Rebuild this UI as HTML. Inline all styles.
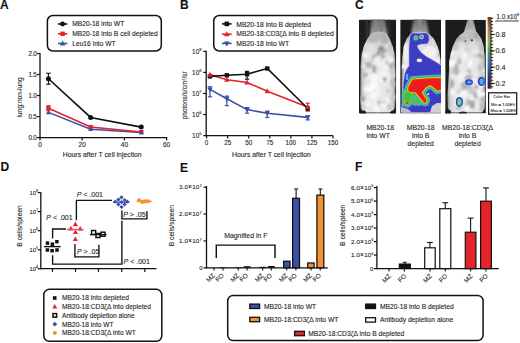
<!DOCTYPE html><html><head><meta charset="utf-8"><style>html,body{margin:0;padding:0;background:#fff;overflow:hidden;}svg{display:block;}text{font-family:"Liberation Sans",sans-serif;stroke:#222;stroke-width:0.1px;}</style></head><body>
<svg width="520" height="343" viewBox="0 0 520 343">
<rect width="520" height="343" fill="#fff"/>
<text x="0" y="8.7" font-size="12" text-anchor="start" font-weight="bold" fill="#111">A</text>
<text x="180" y="8.7" font-size="12" text-anchor="start" font-weight="bold" fill="#111">B</text>
<text x="354.9" y="8.8" font-size="12" text-anchor="start" font-weight="bold" fill="#111">C</text>
<text x="0.5" y="171.2" font-size="12" text-anchor="start" font-weight="bold" fill="#111">D</text>
<text x="180" y="171.5" font-size="12" text-anchor="start" font-weight="bold" fill="#111">E</text>
<text x="355.0" y="170.8" font-size="12" text-anchor="start" font-weight="bold" fill="#111">F</text>
<rect x="47.4" y="15.5" width="113.9" height="35.5" fill="none" stroke="#111" stroke-width="1.5" rx="5.5"/>
<line x1="58.0" y1="24.0" x2="67.3" y2="24.0" stroke="#111" stroke-width="1.6"/>
<circle cx="62.6" cy="24.0" r="2.4" fill="#111" stroke="none" stroke-width="0"/>
<text x="72.2" y="26.4" font-size="6.7" text-anchor="start" font-weight="normal" fill="#222">MB20-18 into WT</text>
<line x1="58.0" y1="33.8" x2="67.3" y2="33.8" stroke="#e3242b" stroke-width="1.6"/>
<rect x="60.40" y="31.60" width="4.4" height="4.4" fill="#e3242b"/>
<text x="72.2" y="36.199999999999996" font-size="6.7" text-anchor="start" font-weight="normal" fill="#222">MB20-18 into B cell depleted</text>
<line x1="58.0" y1="43.5" x2="67.3" y2="43.5" stroke="#3b4fa8" stroke-width="1.6"/>
<polygon points="62.60,40.58 59.90,45.44 65.30,45.44" fill="#3b4fa8"/>
<text x="72.2" y="45.9" font-size="6.7" text-anchor="start" font-weight="normal" fill="#222">Leu16 into WT</text>
<line x1="40.0" y1="53.0" x2="40.0" y2="138.2" stroke="#111" stroke-width="1.3"/>
<line x1="39.4" y1="137.6" x2="167.2" y2="137.6" stroke="#111" stroke-width="1.3"/>
<line x1="37.0" y1="137.6" x2="40.0" y2="137.6" stroke="#111" stroke-width="1.2"/>
<text x="36.7" y="139.79999999999998" font-size="6.3" text-anchor="end" font-weight="normal" fill="#222" letter-spacing="-0.15">0.0</text>
<line x1="37.0" y1="116.57499999999999" x2="40.0" y2="116.57499999999999" stroke="#111" stroke-width="1.2"/>
<text x="36.7" y="118.77499999999999" font-size="6.3" text-anchor="end" font-weight="normal" fill="#222" letter-spacing="-0.15">0.5</text>
<line x1="37.0" y1="95.55" x2="40.0" y2="95.55" stroke="#111" stroke-width="1.2"/>
<text x="36.7" y="97.75" font-size="6.3" text-anchor="end" font-weight="normal" fill="#222" letter-spacing="-0.15">1.0</text>
<line x1="37.0" y1="74.525" x2="40.0" y2="74.525" stroke="#111" stroke-width="1.2"/>
<text x="36.7" y="76.72500000000001" font-size="6.3" text-anchor="end" font-weight="normal" fill="#222" letter-spacing="-0.15">1.5</text>
<line x1="37.0" y1="53.5" x2="40.0" y2="53.5" stroke="#111" stroke-width="1.2"/>
<text x="36.7" y="55.7" font-size="6.3" text-anchor="end" font-weight="normal" fill="#222" letter-spacing="-0.15">2.0</text>
<line x1="40.0" y1="137.6" x2="40.0" y2="140.6" stroke="#111" stroke-width="1.2"/>
<text x="40.0" y="147.0" font-size="6.5" text-anchor="middle" font-weight="normal" fill="#222">0</text>
<line x1="82.19999999999999" y1="137.6" x2="82.19999999999999" y2="140.6" stroke="#111" stroke-width="1.2"/>
<text x="82.19999999999999" y="147.0" font-size="6.5" text-anchor="middle" font-weight="normal" fill="#222">20</text>
<line x1="124.39999999999999" y1="137.6" x2="124.39999999999999" y2="140.6" stroke="#111" stroke-width="1.2"/>
<text x="124.39999999999999" y="147.0" font-size="6.5" text-anchor="middle" font-weight="normal" fill="#222">40</text>
<line x1="166.6" y1="137.6" x2="166.6" y2="140.6" stroke="#111" stroke-width="1.2"/>
<text x="166.6" y="147.0" font-size="6.5" text-anchor="middle" font-weight="normal" fill="#222">60</text>
<text x="102.25" y="157.3" font-size="6.85" text-anchor="middle" font-weight="normal" fill="#222">Hours after T cell injection</text>
<text x="21.8" y="97.4" font-size="6.6" text-anchor="middle" font-weight="normal" fill="#222" transform="rotate(-90 21.8 97.4)">lung:non-lung</text>
<polyline points="48.44,112.37 90.64,129.19 141.28,132.55" fill="none" stroke="#3b4fa8" stroke-width="1.6" stroke-linejoin="miter"/>
<polyline points="48.44,108.16 90.64,127.09 141.28,132.13" fill="none" stroke="#e3242b" stroke-width="1.6" stroke-linejoin="miter"/>
<polyline points="48.44,78.73 90.64,117.42 141.28,127.09" fill="none" stroke="#111" stroke-width="1.6" stroke-linejoin="miter"/>
<line x1="48.44" y1="73.2635" x2="48.44" y2="84.1965" stroke="#111" stroke-width="1.1"/>
<line x1="46.19" y1="73.2635" x2="50.69" y2="73.2635" stroke="#111" stroke-width="1.1"/>
<line x1="46.19" y1="84.1965" x2="50.69" y2="84.1965" stroke="#111" stroke-width="1.1"/>
<line x1="48.44" y1="105.642" x2="48.44" y2="110.68799999999999" stroke="#e3242b" stroke-width="1.1"/>
<line x1="46.44" y1="105.642" x2="50.44" y2="105.642" stroke="#e3242b" stroke-width="1.1"/>
<line x1="46.44" y1="110.68799999999999" x2="50.44" y2="110.68799999999999" stroke="#e3242b" stroke-width="1.1"/>
<rect x="46.24" y="105.96" width="4.4" height="4.4" fill="#e3242b"/>
<rect x="88.44" y="124.89" width="4.4" height="4.4" fill="#e3242b"/>
<rect x="139.08" y="129.93" width="4.4" height="4.4" fill="#e3242b"/>
<polygon points="48.44,109.67 45.94,114.17 50.94,114.17" fill="#3b4fa8"/>
<polygon points="90.64,126.49 88.14,130.99 93.14,130.99" fill="#3b4fa8"/>
<polygon points="141.28,129.85 138.78,134.35 143.78,134.35" fill="#3b4fa8"/>
<circle cx="48.44" cy="78.73" r="2.5" fill="#111" stroke="none" stroke-width="0"/>
<circle cx="90.64" cy="117.416" r="2.5" fill="#111" stroke="none" stroke-width="0"/>
<circle cx="141.28" cy="127.08749999999999" r="2.5" fill="#111" stroke="none" stroke-width="0"/>
<rect x="213.75" y="15.5" width="123.4" height="35.5" fill="none" stroke="#111" stroke-width="1.5" rx="5.5"/>
<line x1="222.0" y1="23.9" x2="231.6" y2="23.9" stroke="#111" stroke-width="1.6"/>
<rect x="224.50" y="21.60" width="4.6" height="4.6" fill="#111"/>
<text x="236.3" y="26.7" font-size="6.8" text-anchor="start" font-weight="normal" fill="#222">MB20-18 into B depleted</text>
<line x1="222.0" y1="34.2" x2="231.6" y2="34.2" stroke="#e3242b" stroke-width="1.6"/>
<polygon points="226.80,31.18 224.00,36.22 229.60,36.22" fill="#e3242b"/>
<text x="236.3" y="36.400000000000006" font-size="6.8" text-anchor="start" font-weight="normal" fill="#222">MB20-18:CD3ζΔ into B depleted</text>
<line x1="222.0" y1="43.4" x2="231.6" y2="43.4" stroke="#3b4fa8" stroke-width="1.6"/>
<polygon points="226.80,46.42 224.00,41.38 229.60,41.38" fill="#3b4fa8"/>
<text x="236.3" y="45.6" font-size="6.8" text-anchor="start" font-weight="normal" fill="#222">MB20-18 into WT</text>
<line x1="206.2" y1="50.8" x2="206.2" y2="136.2" stroke="#111" stroke-width="1.3"/>
<line x1="205.6" y1="135.6" x2="332.8" y2="135.6" stroke="#111" stroke-width="1.3"/>
<line x1="203.2" y1="135.6" x2="206.2" y2="135.6" stroke="#111" stroke-width="1.2"/>
<text x="201.4" y="137.90" font-size="6.4" text-anchor="end" fill="#222">10<tspan font-size="3.9" dy="-2.8">5</tspan></text>
<line x1="203.2" y1="114.53" x2="206.2" y2="114.53" stroke="#111" stroke-width="1.2"/>
<text x="201.4" y="116.83" font-size="6.4" text-anchor="end" fill="#222">10<tspan font-size="3.9" dy="-2.8">6</tspan></text>
<line x1="203.2" y1="93.46" x2="206.2" y2="93.46" stroke="#111" stroke-width="1.2"/>
<text x="201.4" y="95.76" font-size="6.4" text-anchor="end" fill="#222">10<tspan font-size="3.9" dy="-2.8">7</tspan></text>
<line x1="203.2" y1="72.38999999999999" x2="206.2" y2="72.38999999999999" stroke="#111" stroke-width="1.2"/>
<text x="201.4" y="74.69" font-size="6.4" text-anchor="end" fill="#222">10<tspan font-size="3.9" dy="-2.8">8</tspan></text>
<line x1="203.2" y1="51.31999999999999" x2="206.2" y2="51.31999999999999" stroke="#111" stroke-width="1.2"/>
<text x="201.4" y="53.62" font-size="6.4" text-anchor="end" fill="#222">10<tspan font-size="3.9" dy="-2.8">9</tspan></text>
<line x1="206.6" y1="135.6" x2="206.6" y2="138.6" stroke="#111" stroke-width="1.2"/>
<text x="206.6" y="145.0" font-size="6.3" text-anchor="middle" font-weight="normal" fill="#222">0</text>
<line x1="227.6625" y1="135.6" x2="227.6625" y2="138.6" stroke="#111" stroke-width="1.2"/>
<text x="227.6625" y="145.0" font-size="6.3" text-anchor="middle" font-weight="normal" fill="#222">25</text>
<line x1="248.725" y1="135.6" x2="248.725" y2="138.6" stroke="#111" stroke-width="1.2"/>
<text x="248.725" y="145.0" font-size="6.3" text-anchor="middle" font-weight="normal" fill="#222">50</text>
<line x1="269.7875" y1="135.6" x2="269.7875" y2="138.6" stroke="#111" stroke-width="1.2"/>
<text x="269.7875" y="145.0" font-size="6.3" text-anchor="middle" font-weight="normal" fill="#222">75</text>
<line x1="290.85" y1="135.6" x2="290.85" y2="138.6" stroke="#111" stroke-width="1.2"/>
<text x="290.85" y="145.0" font-size="6.3" text-anchor="middle" font-weight="normal" fill="#222">100</text>
<line x1="311.9125" y1="135.6" x2="311.9125" y2="138.6" stroke="#111" stroke-width="1.2"/>
<text x="311.9125" y="145.0" font-size="6.3" text-anchor="middle" font-weight="normal" fill="#222">125</text>
<line x1="332.975" y1="135.6" x2="332.975" y2="138.6" stroke="#111" stroke-width="1.2"/>
<text x="332.975" y="145.0" font-size="6.3" text-anchor="middle" font-weight="normal" fill="#222">150</text>
<text x="271.5" y="157.2" font-size="6.85" text-anchor="middle" font-weight="normal" fill="#222">Hours after T cell injection</text>
<text x="0" y="0" font-size="6.5" text-anchor="middle" fill="#222" transform="translate(187.0 95.3) rotate(-90)">photons/s/cm<tspan font-size="3.8" dy="-2.4">2</tspan><tspan dy="2.4">/sr</tspan></text>
<polyline points="209.97,89.40 226.82,98.80 247.04,109.60 267.26,113.20 307.70,117.40" fill="none" stroke="#3b4fa8" stroke-width="1.6" stroke-linejoin="miter"/>
<polyline points="209.97,74.70 226.82,79.70 247.04,82.50 267.26,91.20 307.70,107.00" fill="none" stroke="#e3242b" stroke-width="1.6" stroke-linejoin="miter"/>
<polyline points="209.97,76.40 226.82,75.30 247.04,74.20 267.26,68.50 307.70,108.50" fill="none" stroke="#111" stroke-width="1.6" stroke-linejoin="miter"/>
<line x1="209.97" y1="86.7" x2="209.97" y2="96.80000000000001" stroke="#3b4fa8" stroke-width="1.2"/>
<line x1="207.87" y1="86.7" x2="212.07" y2="86.7" stroke="#3b4fa8" stroke-width="1.2"/>
<line x1="207.87" y1="96.80000000000001" x2="212.07" y2="96.80000000000001" stroke="#3b4fa8" stroke-width="1.2"/>
<line x1="226.82" y1="96.1" x2="226.82" y2="105.6" stroke="#3b4fa8" stroke-width="1.2"/>
<line x1="224.72" y1="96.1" x2="228.92" y2="96.1" stroke="#3b4fa8" stroke-width="1.2"/>
<line x1="224.72" y1="105.6" x2="228.92" y2="105.6" stroke="#3b4fa8" stroke-width="1.2"/>
<line x1="247.04" y1="107.6" x2="247.04" y2="113.19999999999999" stroke="#3b4fa8" stroke-width="1.2"/>
<line x1="244.94" y1="107.6" x2="249.14" y2="107.6" stroke="#3b4fa8" stroke-width="1.2"/>
<line x1="244.94" y1="113.19999999999999" x2="249.14" y2="113.19999999999999" stroke="#3b4fa8" stroke-width="1.2"/>
<line x1="267.26" y1="111.10000000000001" x2="267.26" y2="117.5" stroke="#3b4fa8" stroke-width="1.2"/>
<line x1="265.15999999999997" y1="111.10000000000001" x2="269.36" y2="111.10000000000001" stroke="#3b4fa8" stroke-width="1.2"/>
<line x1="265.15999999999997" y1="117.5" x2="269.36" y2="117.5" stroke="#3b4fa8" stroke-width="1.2"/>
<line x1="307.7" y1="115.9" x2="307.7" y2="119.9" stroke="#3b4fa8" stroke-width="1.2"/>
<line x1="305.59999999999997" y1="115.9" x2="309.8" y2="115.9" stroke="#3b4fa8" stroke-width="1.2"/>
<line x1="305.59999999999997" y1="119.9" x2="309.8" y2="119.9" stroke="#3b4fa8" stroke-width="1.2"/>
<line x1="307.7" y1="103.2" x2="307.7" y2="111.1" stroke="#e3242b" stroke-width="1.2"/>
<line x1="305.59999999999997" y1="103.2" x2="309.8" y2="103.2" stroke="#e3242b" stroke-width="1.2"/>
<line x1="305.59999999999997" y1="111.1" x2="309.8" y2="111.1" stroke="#e3242b" stroke-width="1.2"/>
<line x1="247.04" y1="71.4" x2="247.04" y2="79.2" stroke="#111" stroke-width="1.2"/>
<line x1="244.94" y1="71.4" x2="249.14" y2="71.4" stroke="#111" stroke-width="1.2"/>
<line x1="244.94" y1="79.2" x2="249.14" y2="79.2" stroke="#111" stroke-width="1.2"/>
<polygon points="209.97,92.32 207.27,87.46 212.67,87.46" fill="#3b4fa8"/>
<polygon points="226.82,101.72 224.12,96.86 229.52,96.86" fill="#3b4fa8"/>
<polygon points="247.04,112.52 244.34,107.66 249.74,107.66" fill="#3b4fa8"/>
<polygon points="267.26,116.12 264.56,111.26 269.96,111.26" fill="#3b4fa8"/>
<polygon points="307.70,120.32 305.00,115.46 310.40,115.46" fill="#3b4fa8"/>
<rect x="207.77" y="74.20" width="4.4" height="4.4" fill="#111"/>
<rect x="224.62" y="73.10" width="4.4" height="4.4" fill="#111"/>
<rect x="244.84" y="72.00" width="4.4" height="4.4" fill="#111"/>
<rect x="265.06" y="66.30" width="4.4" height="4.4" fill="#111"/>
<rect x="305.50" y="106.30" width="4.4" height="4.4" fill="#111"/>
<polygon points="209.97,71.78 207.27,76.64 212.67,76.64" fill="#e3242b"/>
<polygon points="226.82,76.78 224.12,81.64 229.52,81.64" fill="#e3242b"/>
<polygon points="247.04,79.58 244.34,84.44 249.74,84.44" fill="#e3242b"/>
<polygon points="267.26,88.28 264.56,93.14 269.96,93.14" fill="#e3242b"/>
<polygon points="307.70,104.08 305.00,108.94 310.40,108.94" fill="#e3242b"/>
<defs><filter id="bl" x="-5%" y="-5%" width="110%" height="110%"><feGaussianBlur stdDeviation="0.7"/></filter><filter id="bl3" x="-20%" y="-20%" width="140%" height="140%"><feGaussianBlur stdDeviation="1.1"/></filter><filter id="bl4" x="-50%" y="-20%" width="200%" height="140%"><feGaussianBlur stdDeviation="1.2"/></filter><clipPath id="c1"><rect x="358.9" y="19.6" width="37.3" height="93.9"/></clipPath><clipPath id="c2"><rect x="400.2" y="19.6" width="40.8" height="93.9"/></clipPath><clipPath id="c3"><rect x="445.2" y="19.8" width="40.7" height="93.6"/></clipPath><clipPath id="b1"><path d="M 371.0 33.5 L 378.5 31.5 L 386.5 33.5 L 389.5 38.8 L 392.4 46.0 L 394.6 53.4 L 395.3 60.7 L 395.4 100.0 L 394.8 108.0 L 392.5 111.5 L 389.0 112.5 L 366.0 112.5 L 362.5 111.5 L 360.7 108.0 L 360.3 96.0 L 360.6 66.0 L 361.0 60.7 L 361.8 53.4 L 364.0 46.0 L 367.7 38.8 Z"/></clipPath><clipPath id="b2"><path d="M 411.5 33.5 L 420.0 31.5 L 428.5 33.5 L 433.7 38.8 L 437.3 46.0 L 439.5 53.0 L 440.6 60.0 L 441.0 112.0 L 401.8 112.0 L 401.6 70.0 L 402.2 58.0 L 403.8 46.0 L 406.7 38.8 Z"/></clipPath><clipPath id="b3"><path d="M 463.5 32.5 L 470.0 31.5 L 477.0 32.5 L 481.4 38.9 L 483.6 46.2 L 484.3 53.5 L 485.0 60.8 L 485.3 100.0 L 484.5 109.0 L 482.0 112.5 L 450.0 112.5 L 447.8 108.0 L 447.5 98.0 L 448.0 86.0 L 449.0 70.0 L 449.3 60.8 L 450.8 53.5 L 453.0 46.2 L 456.6 38.9 L 460.0 35.0 Z"/></clipPath><linearGradient id="bg1" x1="0" y1="0" x2="1" y2="0"><stop offset="0" stop-color="#8c8c8c"/><stop offset="0.07" stop-color="#cfcfcf"/><stop offset="0.2" stop-color="#e8e8e8"/><stop offset="0.8" stop-color="#e6e6e6"/><stop offset="0.93" stop-color="#cdcdcd"/><stop offset="1" stop-color="#8a8a8a"/></linearGradient><linearGradient id="sh" x1="0" y1="0" x2="0" y2="1"><stop offset="0" stop-color="#9a9a9a" stop-opacity="0.7"/><stop offset="0.22" stop-color="#bbbbbb" stop-opacity="0.25"/><stop offset="0.4" stop-color="#ffffff" stop-opacity="0"/></linearGradient><linearGradient id="hd" x1="0" y1="0" x2="0" y2="1"><stop offset="0" stop-color="#5c5c5c"/><stop offset="0.5" stop-color="#808080"/><stop offset="1" stop-color="#a4a4a4"/></linearGradient><linearGradient id="hd3" x1="0" y1="0" x2="0" y2="1"><stop offset="0" stop-color="#909090"/><stop offset="1" stop-color="#c4c4c4"/></linearGradient></defs>
<g clip-path="url(#c1)">
<rect x="358.9" y="19.6" width="37.3" height="93.9" fill="#1d1d1d"/>
<g filter="url(#bl)">
<rect x="365.5" y="19.6" width="3" height="22" fill="#2e2e2e"/><rect x="387.5" y="19.6" width="3" height="22" fill="#2c2c2c"/>
</g>
<g filter="url(#bl4)">
<path d="M 371.5 18.0 L 385.0 18.0 L 387.5 35.0 L 370.0 35.0 Z" fill="url(#hd)"/>
<rect x="375" y="18" width="2" height="14" fill="#8a8a8a"/><rect x="380" y="18" width="2" height="14" fill="#7c7c7c"/>
</g>
<g filter="url(#bl)">
<path d="M 371.0 33.5 L 378.5 31.5 L 386.5 33.5 L 389.5 38.8 L 392.4 46.0 L 394.6 53.4 L 395.3 60.7 L 395.4 100.0 L 394.8 108.0 L 392.5 111.5 L 389.0 112.5 L 366.0 112.5 L 362.5 111.5 L 360.7 108.0 L 360.3 96.0 L 360.6 66.0 L 361.0 60.7 L 361.8 53.4 L 364.0 46.0 L 367.7 38.8 Z" fill="url(#bg1)"/>
</g>
<g clip-path="url(#b1)"><g filter="url(#bl3)">
<ellipse cx="376.3" cy="76.9" rx="3.6" ry="2.9" fill="#eeeeee"/><ellipse cx="389.5" cy="49.9" rx="3.3" ry="2.9" fill="#d0d0d0"/><ellipse cx="387.5" cy="42.9" rx="2.2" ry="1.8" fill="#fafafa"/><ellipse cx="382.3" cy="79.5" rx="2.4" ry="2.9" fill="#fafafa"/><ellipse cx="381.7" cy="47.5" rx="1.5" ry="3.1" fill="#a8a8a8"/><ellipse cx="362.7" cy="100.2" rx="2.9" ry="3.8" fill="#f8f8f8"/><ellipse cx="375.9" cy="97.5" rx="2.7" ry="3.4" fill="#f2f2f2"/><ellipse cx="361.7" cy="42.2" rx="3.0" ry="2.7" fill="#eeeeee"/><ellipse cx="394.2" cy="97.3" rx="3.1" ry="2.4" fill="#c8c8c8"/><ellipse cx="378.3" cy="38.2" rx="2.8" ry="1.8" fill="#b4b4b4"/><ellipse cx="389.3" cy="64.2" rx="3.7" ry="4.0" fill="#a8a8a8"/><ellipse cx="368.5" cy="103.7" rx="1.6" ry="2.6" fill="#fafafa"/><ellipse cx="374.5" cy="41.3" rx="2.9" ry="3.8" fill="#f4f4f4"/><ellipse cx="372.6" cy="58.7" rx="1.5" ry="2.7" fill="#b4b4b4"/><ellipse cx="365.9" cy="87.6" rx="1.5" ry="2.9" fill="#f2f2f2"/><ellipse cx="367.3" cy="76.8" rx="2.5" ry="2.1" fill="#fafafa"/><ellipse cx="386.7" cy="66.6" rx="2.4" ry="2.7" fill="#c8c8c8"/><ellipse cx="361.5" cy="99.1" rx="3.7" ry="3.3" fill="#a8a8a8"/><ellipse cx="368.4" cy="64.8" rx="3.5" ry="3.4" fill="#b4b4b4"/><ellipse cx="362.9" cy="46.7" rx="2.5" ry="1.5" fill="#d0d0d0"/><ellipse cx="372.3" cy="57.6" rx="1.7" ry="1.8" fill="#d0d0d0"/><ellipse cx="382.4" cy="37.1" rx="2.3" ry="3.4" fill="#c0c0c0"/><ellipse cx="393.0" cy="71.3" rx="2.8" ry="4.1" fill="#c0c0c0"/><ellipse cx="382.1" cy="58.7" rx="2.0" ry="3.3" fill="#fafafa"/><ellipse cx="367.7" cy="90.0" rx="3.7" ry="2.1" fill="#fcfcfc"/><ellipse cx="390.4" cy="80.1" rx="2.5" ry="1.8" fill="#a8a8a8"/><ellipse cx="378.3" cy="54.6" rx="3.2" ry="2.7" fill="#fcfcfc"/><ellipse cx="388.5" cy="79.5" rx="2.2" ry="2.0" fill="#fafafa"/><ellipse cx="393.6" cy="45.2" rx="2.6" ry="3.5" fill="#d0d0d0"/><ellipse cx="381.6" cy="56.5" rx="3.6" ry="2.1" fill="#a8a8a8"/><ellipse cx="363.8" cy="66.0" rx="2.1" ry="1.6" fill="#f4f4f4"/><ellipse cx="373.6" cy="77.8" rx="1.8" ry="2.6" fill="#f2f2f2"/><ellipse cx="393.7" cy="84.0" rx="3.1" ry="3.3" fill="#c0c0c0"/><ellipse cx="380.8" cy="103.4" rx="2.6" ry="2.6" fill="#f4f4f4"/><ellipse cx="393.1" cy="37.6" rx="3.0" ry="2.9" fill="#fafafa"/><ellipse cx="371.7" cy="46.0" rx="1.7" ry="2.9" fill="#f8f8f8"/><ellipse cx="385.7" cy="101.7" rx="3.2" ry="3.6" fill="#f8f8f8"/><ellipse cx="373.0" cy="86.0" rx="3.6" ry="4.1" fill="#fcfcfc"/><ellipse cx="392.5" cy="38.2" rx="2.6" ry="1.5" fill="#f6f6f6"/><ellipse cx="374.0" cy="78.5" rx="2.9" ry="1.7" fill="#f6f6f6"/><ellipse cx="365.3" cy="54.8" rx="2.5" ry="2.5" fill="#fafafa"/><ellipse cx="384.3" cy="69.4" rx="2.6" ry="3.1" fill="#eeeeee"/><ellipse cx="386.1" cy="38.2" rx="2.9" ry="2.9" fill="#c8c8c8"/><ellipse cx="392.9" cy="44.2" rx="3.3" ry="3.5" fill="#f2f2f2"/><ellipse cx="369.9" cy="36.8" rx="2.2" ry="3.5" fill="#c8c8c8"/><ellipse cx="378.5" cy="91.0" rx="2.3" ry="4.3" fill="#f2f2f2"/><ellipse cx="390.7" cy="59.9" rx="3.0" ry="2.1" fill="#fcfcfc"/><ellipse cx="387.9" cy="91.1" rx="2.0" ry="2.1" fill="#c8c8c8"/><ellipse cx="380.6" cy="59.1" rx="1.8" ry="3.0" fill="#a8a8a8"/><ellipse cx="384.8" cy="105.4" rx="2.1" ry="2.0" fill="#f2f2f2"/><ellipse cx="377.0" cy="103.6" rx="3.4" ry="2.6" fill="#eeeeee"/><ellipse cx="377.7" cy="59.0" rx="3.4" ry="4.4" fill="#f2f2f2"/><ellipse cx="372.0" cy="96.5" rx="2.1" ry="3.3" fill="#f6f6f6"/><ellipse cx="384.7" cy="77.7" rx="2.2" ry="3.9" fill="#a8a8a8"/><ellipse cx="382.5" cy="65.6" rx="1.9" ry="3.8" fill="#f4f4f4"/><ellipse cx="369.3" cy="46.3" rx="1.6" ry="3.4" fill="#f2f2f2"/><ellipse cx="365.1" cy="75.1" rx="3.0" ry="2.6" fill="#b4b4b4"/><ellipse cx="384.0" cy="50.6" rx="2.6" ry="2.0" fill="#a8a8a8"/><ellipse cx="386.3" cy="75.0" rx="1.6" ry="2.2" fill="#f8f8f8"/><ellipse cx="379.2" cy="105.1" rx="2.7" ry="4.5" fill="#c0c0c0"/><ellipse cx="374.4" cy="93.8" rx="3.6" ry="1.8" fill="#fafafa"/><ellipse cx="374.2" cy="68.9" rx="2.0" ry="4.2" fill="#a8a8a8"/><ellipse cx="373.9" cy="77.5" rx="3.5" ry="3.9" fill="#f8f8f8"/><ellipse cx="376.7" cy="83.5" rx="2.0" ry="3.7" fill="#f6f6f6"/><ellipse cx="391.8" cy="45.0" rx="2.1" ry="2.7" fill="#b4b4b4"/><ellipse cx="393.6" cy="75.2" rx="3.3" ry="2.5" fill="#fafafa"/><ellipse cx="389.6" cy="61.4" rx="1.7" ry="2.8" fill="#eeeeee"/><ellipse cx="375.3" cy="56.1" rx="3.6" ry="2.2" fill="#b4b4b4"/><ellipse cx="375.6" cy="38.6" rx="2.7" ry="3.6" fill="#c0c0c0"/><ellipse cx="376.9" cy="109.0" rx="3.6" ry="3.1" fill="#f6f6f6"/><ellipse cx="384.1" cy="105.0" rx="2.6" ry="4.3" fill="#b4b4b4"/><ellipse cx="386.4" cy="68.1" rx="2.8" ry="4.0" fill="#eeeeee"/><ellipse cx="382.5" cy="74.2" rx="3.4" ry="3.2" fill="#f4f4f4"/><ellipse cx="383.5" cy="105.7" rx="3.5" ry="3.3" fill="#f4f4f4"/><ellipse cx="389.4" cy="106.7" rx="2.7" ry="3.2" fill="#c8c8c8"/><ellipse cx="375.0" cy="44.3" rx="1.5" ry="2.6" fill="#eeeeee"/><ellipse cx="393.3" cy="73.7" rx="2.4" ry="3.9" fill="#d0d0d0"/><ellipse cx="365.5" cy="42.8" rx="1.9" ry="4.3" fill="#f2f2f2"/><ellipse cx="375.1" cy="105.9" rx="3.6" ry="2.3" fill="#f2f2f2"/><ellipse cx="377.7" cy="60.8" rx="3.6" ry="4.3" fill="#f2f2f2"/>
<rect x="359" y="31" width="38" height="82" fill="url(#sh)"/>
<ellipse cx="381" cy="49" rx="3" ry="2.5" fill="#8a8a8a"/>
<ellipse cx="378.5" cy="53" rx="2.5" ry="2" fill="#9a9a9a"/>
<ellipse cx="383" cy="53" rx="1.5" ry="1.5" fill="#a0a0a0"/>
<ellipse cx="372" cy="40" rx="5" ry="3" fill="#b8b8b8"/>
<ellipse cx="385" cy="41" rx="4" ry="3" fill="#b4b4b4"/>
</g></g>
<g filter="url(#bl)"><ellipse cx="363" cy="112.5" rx="3" ry="2" fill="#1d1d1d"/><ellipse cx="393" cy="112.5" rx="2.5" ry="2" fill="#1d1d1d"/></g>
</g>
<g clip-path="url(#c2)">
<rect x="400.2" y="19.6" width="40.8" height="93.9" fill="#1c1c1c"/>
<g filter="url(#bl4)">
<path d="M 413.6 18.0 L 426.2 18.0 L 428.8 34.0 L 411.2 34.0 Z" fill="url(#hd)"/>
<rect x="418" y="18" width="3" height="12" fill="#8c8c8c"/>
</g>
<g filter="url(#bl)">
<path d="M 411.5 33.5 L 420.0 31.5 L 428.5 33.5 L 433.7 38.8 L 437.3 46.0 L 439.5 53.0 L 440.6 60.0 L 441.0 112.0 L 401.8 112.0 L 401.6 70.0 L 402.2 58.0 L 403.8 46.0 L 406.7 38.8 Z" fill="url(#bg1)"/>
</g>
<g clip-path="url(#b2)"><g filter="url(#bl3)">
<ellipse cx="426.0" cy="90.2" rx="3.3" ry="4.3" fill="#fafafa"/><ellipse cx="427.1" cy="74.7" rx="3.4" ry="3.8" fill="#c8c8c8"/><ellipse cx="427.0" cy="101.8" rx="1.8" ry="2.9" fill="#c8c8c8"/><ellipse cx="417.1" cy="43.4" rx="2.1" ry="3.7" fill="#fcfcfc"/><ellipse cx="413.3" cy="102.9" rx="3.3" ry="2.0" fill="#b4b4b4"/><ellipse cx="408.1" cy="81.1" rx="1.8" ry="1.5" fill="#a8a8a8"/><ellipse cx="410.7" cy="51.7" rx="3.8" ry="4.1" fill="#f4f4f4"/><ellipse cx="414.6" cy="50.5" rx="3.5" ry="3.4" fill="#c0c0c0"/><ellipse cx="437.8" cy="86.4" rx="3.7" ry="4.2" fill="#f4f4f4"/><ellipse cx="403.8" cy="66.3" rx="3.7" ry="2.3" fill="#f8f8f8"/><ellipse cx="414.2" cy="80.0" rx="1.5" ry="3.5" fill="#f8f8f8"/><ellipse cx="405.4" cy="61.9" rx="2.2" ry="3.6" fill="#c0c0c0"/><ellipse cx="420.8" cy="87.4" rx="1.6" ry="4.4" fill="#a8a8a8"/><ellipse cx="438.1" cy="62.1" rx="2.4" ry="3.1" fill="#fcfcfc"/><ellipse cx="416.5" cy="78.2" rx="1.5" ry="1.6" fill="#c0c0c0"/><ellipse cx="426.1" cy="105.7" rx="1.8" ry="2.2" fill="#f2f2f2"/><ellipse cx="415.7" cy="61.9" rx="2.7" ry="3.8" fill="#b4b4b4"/><ellipse cx="424.8" cy="93.0" rx="2.3" ry="2.4" fill="#fcfcfc"/><ellipse cx="438.0" cy="42.7" rx="2.3" ry="3.3" fill="#c0c0c0"/><ellipse cx="415.6" cy="103.5" rx="2.8" ry="2.4" fill="#f8f8f8"/><ellipse cx="414.3" cy="94.3" rx="2.9" ry="3.7" fill="#f4f4f4"/><ellipse cx="439.9" cy="47.8" rx="1.6" ry="4.5" fill="#eeeeee"/><ellipse cx="437.2" cy="38.3" rx="3.2" ry="2.5" fill="#f4f4f4"/><ellipse cx="419.9" cy="66.8" rx="1.6" ry="4.2" fill="#a8a8a8"/><ellipse cx="432.7" cy="60.4" rx="2.0" ry="4.4" fill="#d0d0d0"/><ellipse cx="438.1" cy="82.0" rx="3.3" ry="1.8" fill="#fcfcfc"/><ellipse cx="416.8" cy="40.3" rx="2.5" ry="1.9" fill="#d0d0d0"/><ellipse cx="434.5" cy="107.2" rx="2.5" ry="3.0" fill="#fafafa"/><ellipse cx="414.8" cy="56.0" rx="2.6" ry="4.2" fill="#b4b4b4"/><ellipse cx="416.9" cy="108.2" rx="3.7" ry="3.4" fill="#f2f2f2"/><ellipse cx="435.1" cy="49.1" rx="2.6" ry="3.0" fill="#eeeeee"/><ellipse cx="435.1" cy="62.4" rx="3.3" ry="3.8" fill="#fafafa"/><ellipse cx="424.7" cy="38.5" rx="2.2" ry="3.2" fill="#f6f6f6"/><ellipse cx="413.4" cy="71.5" rx="3.3" ry="3.6" fill="#f4f4f4"/><ellipse cx="438.4" cy="60.8" rx="1.9" ry="4.1" fill="#f2f2f2"/><ellipse cx="423.2" cy="54.3" rx="3.0" ry="2.9" fill="#eeeeee"/><ellipse cx="427.0" cy="94.2" rx="2.3" ry="3.4" fill="#fafafa"/><ellipse cx="437.7" cy="65.8" rx="3.6" ry="2.0" fill="#fafafa"/><ellipse cx="419.6" cy="62.6" rx="2.3" ry="1.9" fill="#c0c0c0"/><ellipse cx="410.4" cy="62.4" rx="3.5" ry="2.3" fill="#b4b4b4"/><ellipse cx="429.6" cy="89.3" rx="1.9" ry="3.8" fill="#d0d0d0"/><ellipse cx="422.1" cy="104.4" rx="2.2" ry="3.2" fill="#f6f6f6"/><ellipse cx="413.0" cy="108.7" rx="1.9" ry="3.3" fill="#d0d0d0"/><ellipse cx="427.1" cy="52.0" rx="3.1" ry="3.4" fill="#a8a8a8"/><ellipse cx="439.5" cy="107.5" rx="1.9" ry="4.2" fill="#b4b4b4"/><ellipse cx="414.7" cy="49.3" rx="1.9" ry="1.6" fill="#f2f2f2"/><ellipse cx="416.0" cy="84.4" rx="1.7" ry="2.1" fill="#fafafa"/><ellipse cx="436.4" cy="36.0" rx="2.4" ry="2.3" fill="#fcfcfc"/><ellipse cx="435.1" cy="86.3" rx="2.8" ry="4.4" fill="#eeeeee"/><ellipse cx="425.7" cy="42.9" rx="2.8" ry="2.5" fill="#d0d0d0"/><ellipse cx="413.8" cy="61.7" rx="1.8" ry="2.7" fill="#d0d0d0"/><ellipse cx="426.8" cy="63.0" rx="1.8" ry="3.3" fill="#d0d0d0"/><ellipse cx="420.7" cy="50.5" rx="1.8" ry="1.8" fill="#f6f6f6"/><ellipse cx="403.0" cy="43.9" rx="2.8" ry="3.3" fill="#c0c0c0"/><ellipse cx="415.0" cy="100.0" rx="2.8" ry="2.8" fill="#c8c8c8"/><ellipse cx="421.3" cy="71.0" rx="3.1" ry="2.7" fill="#c0c0c0"/><ellipse cx="425.0" cy="55.0" rx="3.8" ry="3.0" fill="#fcfcfc"/><ellipse cx="403.7" cy="105.0" rx="2.2" ry="4.3" fill="#c0c0c0"/><ellipse cx="420.6" cy="44.9" rx="2.9" ry="2.8" fill="#f4f4f4"/><ellipse cx="404.5" cy="46.0" rx="2.4" ry="2.9" fill="#eeeeee"/><ellipse cx="413.1" cy="104.3" rx="3.3" ry="2.2" fill="#f4f4f4"/><ellipse cx="434.2" cy="88.7" rx="2.2" ry="3.0" fill="#f2f2f2"/><ellipse cx="422.2" cy="99.0" rx="3.5" ry="4.2" fill="#a8a8a8"/><ellipse cx="431.1" cy="58.0" rx="2.7" ry="2.5" fill="#f4f4f4"/><ellipse cx="430.1" cy="37.9" rx="2.3" ry="3.5" fill="#d0d0d0"/><ellipse cx="407.9" cy="36.2" rx="2.8" ry="3.6" fill="#b4b4b4"/><ellipse cx="435.9" cy="75.8" rx="1.5" ry="3.8" fill="#fcfcfc"/><ellipse cx="425.0" cy="86.3" rx="3.7" ry="3.4" fill="#fcfcfc"/><ellipse cx="420.6" cy="85.8" rx="3.2" ry="4.2" fill="#f2f2f2"/><ellipse cx="433.7" cy="40.8" rx="3.4" ry="3.6" fill="#fcfcfc"/><ellipse cx="424.5" cy="83.3" rx="2.6" ry="2.4" fill="#c0c0c0"/><ellipse cx="420.7" cy="76.1" rx="2.6" ry="2.5" fill="#c0c0c0"/><ellipse cx="418.7" cy="75.5" rx="1.6" ry="3.7" fill="#f4f4f4"/><ellipse cx="433.3" cy="93.8" rx="3.0" ry="1.6" fill="#fafafa"/><ellipse cx="418.9" cy="41.0" rx="2.4" ry="3.0" fill="#b4b4b4"/><ellipse cx="434.2" cy="52.0" rx="3.0" ry="4.4" fill="#fafafa"/><ellipse cx="436.1" cy="108.6" rx="3.1" ry="2.8" fill="#c0c0c0"/><ellipse cx="425.6" cy="66.2" rx="1.9" ry="3.4" fill="#a8a8a8"/><ellipse cx="423.6" cy="84.2" rx="3.2" ry="2.3" fill="#d0d0d0"/><ellipse cx="424.3" cy="90.2" rx="3.5" ry="1.9" fill="#fcfcfc"/>
<rect x="400" y="31" width="41" height="82" fill="url(#sh)"/>
<ellipse cx="429" cy="52" rx="6" ry="7" fill="#f0f0f0"/><ellipse cx="406" cy="54" rx="3" ry="12" fill="#f0f0f0"/>
</g></g>
<g filter="url(#bl)">
<path d="M 410.3 35.5 L 412.5 33.2 L 419.0 33.6 L 425.0 33.0 L 428.3 34.5 L 429.0 40.0 L 427.5 43.6 L 421.0 44.0 L 417.0 45.5 L 418.0 48.5 L 421.0 52.5 L 426.0 56.5 L 432.3 60.0 L 438.0 63.5 L 441.0 65.5 L 441.0 112.0 L 402.5 112.0 L 402.8 96.0 L 403.6 82.0 L 405.0 73.7 L 406.8 69.3 L 409.3 66.0 L 409.2 56.0 L 409.2 49.0 L 409.6 42.0 Z" fill="#3c3cc4" stroke="#c8c8ee" stroke-width="1.6" stroke-linejoin="round"/>
<path d="M 410.3 35.5 L 412.5 33.2 L 419.0 33.6 L 425.0 33.0 L 428.3 34.5 L 429.0 40.0 L 427.5 43.6 L 421.0 44.0 L 417.0 45.5 L 418.0 48.5 L 421.0 52.5 L 426.0 56.5 L 432.3 60.0 L 438.0 63.5 L 441.0 65.5 L 441.0 112.0 L 402.5 112.0 L 402.8 96.0 L 403.6 82.0 L 405.0 73.7 L 406.8 69.3 L 409.3 66.0 L 409.2 56.0 L 409.2 49.0 L 409.6 42.0 Z" fill="#3c3cc4"/>
<ellipse cx="419.4" cy="60.4" rx="2.8" ry="1.8" fill="#f2f2f2"/>
<circle cx="415.9" cy="37.9" r="2.6" fill="#50c0d0"/><circle cx="415.9" cy="37.9" r="1.6" fill="#60c040"/>
<circle cx="421.6" cy="37.0" r="2.4" fill="#a0d0e0"/><circle cx="421.6" cy="37.0" r="1.4" fill="#b08030"/>
<path d="M 430.0 112.5 L 432.0 106.0 L 437.0 103.0 L 441.0 103.0 L 441.0 112.5 Z" fill="#d0d0d8"/>
<path d="M 401.0 112.5 L 401.0 107.0 L 408.0 109.0 L 412.0 112.5 Z" fill="#b8b8d8"/>
<path d="M 410.0 92.2 L 416.5 93.0 L 420.5 98.0 L 422.8 102.8 L 420.0 104.6 L 414.0 104.2 L 410.0 101.0 Z" fill="#40b0e8" stroke="#40b0e8" stroke-width="2.4" stroke-linejoin="round"/>
<path d="M 410.0 92.2 L 416.5 93.0 L 420.5 98.0 L 422.8 102.8 L 420.0 104.6 L 414.0 104.2 L 410.0 101.0 Z" fill="#58c040"/>
<path d="M 412.6 79.8 L 420.0 79.2 L 430.0 78.6 L 438.5 78.2 L 440.8 78.5 L 440.8 89.5 L 437.2 90.5 L 434.0 87.5 L 430.0 84.8 L 425.2 87.7 L 421.5 92.5 L 424.0 96.5 L 426.5 100.0 L 425.5 102.6 L 423.8 102.2 L 420.0 97.5 L 416.5 93.0 L 415.5 92.2 L 408.9 91.6 L 408.4 87.7 L 410.5 83.5 Z" fill="#40b0e8" stroke="#40b0e8" stroke-width="7.4" stroke-linejoin="round"/>
<path d="M 404.8 91.5 L 410.5 92.5 L 412.0 95.5 L 410.8 99.0 L 409.8 103.0 L 408.0 105.0 L 405.6 104.5 L 404.3 100.0 L 404.2 95.0 Z" fill="#40b0e8" stroke="#40b0e8" stroke-width="5.2" stroke-linejoin="round"/>
<path d="M 412.6 79.8 L 420.0 79.2 L 430.0 78.6 L 438.5 78.2 L 440.8 78.5 L 440.8 89.5 L 437.2 90.5 L 434.0 87.5 L 430.0 84.8 L 425.2 87.7 L 421.5 92.5 L 424.0 96.5 L 426.5 100.0 L 425.5 102.6 L 423.8 102.2 L 420.0 97.5 L 416.5 93.0 L 415.5 92.2 L 408.9 91.6 L 408.4 87.7 L 410.5 83.5 Z" fill="#40c040" stroke="#40c040" stroke-width="5.0" stroke-linejoin="round"/>
<path d="M 404.8 91.5 L 410.5 92.5 L 412.0 95.5 L 410.8 99.0 L 409.8 103.0 L 408.0 105.0 L 405.6 104.5 L 404.3 100.0 L 404.2 95.0 Z" fill="#40c040" stroke="#40c040" stroke-width="2.8" stroke-linejoin="round"/>
<path d="M 412.6 79.8 L 420.0 79.2 L 430.0 78.6 L 438.5 78.2 L 440.8 78.5 L 440.8 89.5 L 437.2 90.5 L 434.0 87.5 L 430.0 84.8 L 425.2 87.7 L 421.5 92.5 L 424.0 96.5 L 426.5 100.0 L 425.5 102.6 L 423.8 102.2 L 420.0 97.5 L 416.5 93.0 L 415.5 92.2 L 408.9 91.6 L 408.4 87.7 L 410.5 83.5 Z" fill="#f0e020" stroke="#f0e020" stroke-width="2.2" stroke-linejoin="round"/>
<path d="M 404.8 91.5 L 410.5 92.5 L 412.0 95.5 L 410.8 99.0 L 409.8 103.0 L 408.0 105.0 L 405.6 104.5 L 404.3 100.0 L 404.2 95.0 Z" fill="#f0e020" stroke="#f0e020" stroke-width="0.5" stroke-linejoin="round"/>
<path d="M 404.8 91.5 L 410.5 92.5 L 412.0 95.5 L 410.8 99.0 L 409.8 103.0 L 408.0 105.0 L 405.6 104.5 L 404.3 100.0 L 404.2 95.0 Z" fill="#40c040"/>
<path d="M 412.6 79.8 L 420.0 79.2 L 430.0 78.6 L 438.5 78.2 L 440.8 78.5 L 440.8 89.5 L 437.2 90.5 L 434.0 87.5 L 430.0 84.8 L 425.2 87.7 L 421.5 92.5 L 424.0 96.5 L 426.5 100.0 L 425.5 102.6 L 423.8 102.2 L 420.0 97.5 L 416.5 93.0 L 415.5 92.2 L 408.9 91.6 L 408.4 87.7 L 410.5 83.5 Z" fill="#ee1c1c" stroke="#ee1c1c" stroke-width="0.6" stroke-linejoin="round"/>
<circle cx="407.3" cy="103.0" r="1.8" fill="#f0a020"/><circle cx="407.3" cy="103.0" r="1.2" fill="#ee2020"/>
<rect x="406" y="74" width="2.2" height="6" fill="#50b0f0"/>
<circle cx="428.3" cy="94" r="0.9" fill="#fff"/>
</g></g>
<g clip-path="url(#c3)">
<rect x="445.2" y="19.8" width="40.7" height="93.6" fill="#1c1c1c"/>
<g filter="url(#bl)">
<path d="M 467.5 20.0 L 473.4 20.0 L 476.5 33.0 L 463.7 33.0 Z" fill="url(#hd3)"/>
<rect x="469.5" y="19.8" width="2" height="5" fill="#b0b0b0"/>
<path d="M 463.5 32.5 L 470.0 31.5 L 477.0 32.5 L 481.4 38.9 L 483.6 46.2 L 484.3 53.5 L 485.0 60.8 L 485.3 100.0 L 484.5 109.0 L 482.0 112.5 L 450.0 112.5 L 447.8 108.0 L 447.5 98.0 L 448.0 86.0 L 449.0 70.0 L 449.3 60.8 L 450.8 53.5 L 453.0 46.2 L 456.6 38.9 L 460.0 35.0 Z" fill="url(#bg1)"/>
</g>
<g clip-path="url(#b3)"><g filter="url(#bl3)">
<ellipse cx="481.4" cy="105.1" rx="3.6" ry="1.8" fill="#d0d0d0"/><ellipse cx="460.4" cy="62.4" rx="2.3" ry="3.7" fill="#f4f4f4"/><ellipse cx="465.1" cy="50.6" rx="2.5" ry="1.6" fill="#b4b4b4"/><ellipse cx="483.4" cy="71.4" rx="1.5" ry="3.4" fill="#fcfcfc"/><ellipse cx="462.2" cy="38.3" rx="3.3" ry="3.3" fill="#f6f6f6"/><ellipse cx="455.8" cy="50.2" rx="3.2" ry="3.2" fill="#f8f8f8"/><ellipse cx="482.9" cy="55.1" rx="3.7" ry="3.2" fill="#f2f2f2"/><ellipse cx="456.0" cy="70.2" rx="3.3" ry="3.5" fill="#c0c0c0"/><ellipse cx="456.2" cy="47.4" rx="2.2" ry="3.9" fill="#c8c8c8"/><ellipse cx="469.8" cy="40.2" rx="2.5" ry="3.2" fill="#d0d0d0"/><ellipse cx="459.5" cy="78.2" rx="1.8" ry="4.2" fill="#eeeeee"/><ellipse cx="460.4" cy="92.3" rx="2.8" ry="2.3" fill="#b4b4b4"/><ellipse cx="471.1" cy="43.0" rx="3.3" ry="3.0" fill="#f8f8f8"/><ellipse cx="468.5" cy="102.9" rx="2.9" ry="4.3" fill="#c0c0c0"/><ellipse cx="465.3" cy="36.5" rx="3.0" ry="2.7" fill="#c0c0c0"/><ellipse cx="477.5" cy="85.5" rx="3.7" ry="3.9" fill="#a8a8a8"/><ellipse cx="468.3" cy="108.1" rx="3.2" ry="2.5" fill="#fcfcfc"/><ellipse cx="466.7" cy="36.8" rx="2.1" ry="3.1" fill="#f2f2f2"/><ellipse cx="482.3" cy="50.2" rx="1.7" ry="3.1" fill="#c0c0c0"/><ellipse cx="473.5" cy="75.8" rx="2.0" ry="1.8" fill="#c0c0c0"/><ellipse cx="480.6" cy="67.4" rx="2.3" ry="4.2" fill="#c0c0c0"/><ellipse cx="480.4" cy="85.6" rx="2.4" ry="3.6" fill="#f6f6f6"/><ellipse cx="475.4" cy="74.9" rx="2.5" ry="2.4" fill="#eeeeee"/><ellipse cx="470.7" cy="37.9" rx="2.2" ry="1.6" fill="#c0c0c0"/><ellipse cx="461.3" cy="76.0" rx="3.4" ry="2.2" fill="#f6f6f6"/><ellipse cx="452.7" cy="76.2" rx="2.7" ry="2.2" fill="#eeeeee"/><ellipse cx="482.6" cy="94.0" rx="3.8" ry="2.3" fill="#f8f8f8"/><ellipse cx="462.8" cy="92.9" rx="1.8" ry="4.1" fill="#c8c8c8"/><ellipse cx="477.0" cy="36.3" rx="3.0" ry="3.7" fill="#b4b4b4"/><ellipse cx="464.3" cy="54.8" rx="2.9" ry="4.5" fill="#fafafa"/><ellipse cx="468.9" cy="73.5" rx="2.2" ry="4.2" fill="#b4b4b4"/><ellipse cx="457.7" cy="38.7" rx="3.5" ry="2.6" fill="#a8a8a8"/><ellipse cx="472.9" cy="79.4" rx="2.2" ry="2.5" fill="#f8f8f8"/><ellipse cx="477.4" cy="54.5" rx="3.6" ry="2.0" fill="#a8a8a8"/><ellipse cx="464.3" cy="95.2" rx="2.6" ry="3.2" fill="#f4f4f4"/><ellipse cx="468.3" cy="85.8" rx="2.4" ry="4.2" fill="#c0c0c0"/><ellipse cx="467.1" cy="42.3" rx="2.6" ry="1.9" fill="#d0d0d0"/><ellipse cx="476.2" cy="34.6" rx="1.6" ry="3.8" fill="#b4b4b4"/><ellipse cx="458.4" cy="107.7" rx="3.0" ry="1.6" fill="#b4b4b4"/><ellipse cx="459.4" cy="61.2" rx="1.8" ry="4.0" fill="#b4b4b4"/><ellipse cx="456.1" cy="72.2" rx="2.9" ry="2.6" fill="#b4b4b4"/><ellipse cx="471.2" cy="86.2" rx="2.9" ry="1.6" fill="#b4b4b4"/><ellipse cx="481.0" cy="47.7" rx="1.5" ry="3.3" fill="#c0c0c0"/><ellipse cx="481.7" cy="56.1" rx="3.6" ry="2.4" fill="#a8a8a8"/><ellipse cx="477.9" cy="79.2" rx="2.9" ry="2.5" fill="#c0c0c0"/><ellipse cx="461.9" cy="46.0" rx="2.0" ry="4.4" fill="#f8f8f8"/><ellipse cx="475.8" cy="50.7" rx="2.9" ry="4.3" fill="#f6f6f6"/><ellipse cx="462.3" cy="82.8" rx="3.2" ry="4.3" fill="#f4f4f4"/><ellipse cx="465.5" cy="83.5" rx="3.7" ry="3.4" fill="#f8f8f8"/><ellipse cx="462.9" cy="92.0" rx="3.4" ry="1.6" fill="#fcfcfc"/><ellipse cx="461.9" cy="49.8" rx="3.0" ry="2.0" fill="#f8f8f8"/><ellipse cx="463.8" cy="38.4" rx="2.2" ry="2.8" fill="#c0c0c0"/><ellipse cx="470.0" cy="65.1" rx="2.1" ry="2.4" fill="#f6f6f6"/><ellipse cx="460.1" cy="95.4" rx="2.4" ry="2.6" fill="#f2f2f2"/><ellipse cx="482.9" cy="74.2" rx="2.9" ry="2.8" fill="#d0d0d0"/><ellipse cx="456.2" cy="67.0" rx="1.9" ry="3.8" fill="#b4b4b4"/><ellipse cx="465.5" cy="34.2" rx="3.0" ry="2.3" fill="#fafafa"/><ellipse cx="451.2" cy="63.3" rx="3.7" ry="3.7" fill="#fafafa"/><ellipse cx="483.3" cy="99.5" rx="3.2" ry="1.9" fill="#b4b4b4"/><ellipse cx="475.5" cy="94.9" rx="2.6" ry="3.8" fill="#b4b4b4"/><ellipse cx="464.4" cy="85.5" rx="3.8" ry="3.9" fill="#b4b4b4"/><ellipse cx="471.1" cy="90.3" rx="2.9" ry="3.1" fill="#c8c8c8"/><ellipse cx="479.0" cy="92.7" rx="2.2" ry="3.6" fill="#fcfcfc"/><ellipse cx="466.8" cy="74.9" rx="3.3" ry="2.4" fill="#fafafa"/><ellipse cx="450.8" cy="93.3" rx="2.8" ry="4.2" fill="#c0c0c0"/><ellipse cx="452.2" cy="92.6" rx="1.8" ry="4.3" fill="#fafafa"/><ellipse cx="481.3" cy="106.7" rx="1.8" ry="4.0" fill="#b4b4b4"/><ellipse cx="478.2" cy="106.1" rx="1.6" ry="2.9" fill="#f6f6f6"/><ellipse cx="451.2" cy="53.8" rx="2.8" ry="2.8" fill="#f6f6f6"/><ellipse cx="472.0" cy="99.7" rx="2.0" ry="3.7" fill="#fafafa"/><ellipse cx="473.0" cy="83.3" rx="1.8" ry="4.0" fill="#f2f2f2"/><ellipse cx="452.1" cy="83.7" rx="1.8" ry="4.4" fill="#a8a8a8"/><ellipse cx="470.4" cy="63.0" rx="1.6" ry="3.8" fill="#fcfcfc"/><ellipse cx="477.1" cy="81.7" rx="1.8" ry="3.9" fill="#f8f8f8"/><ellipse cx="472.0" cy="104.5" rx="2.8" ry="4.4" fill="#a8a8a8"/><ellipse cx="479.0" cy="40.1" rx="2.3" ry="3.5" fill="#d0d0d0"/><ellipse cx="451.2" cy="46.5" rx="2.2" ry="4.0" fill="#b4b4b4"/><ellipse cx="454.9" cy="44.5" rx="2.8" ry="4.4" fill="#d0d0d0"/><ellipse cx="478.5" cy="90.4" rx="2.0" ry="2.0" fill="#f6f6f6"/><ellipse cx="468.2" cy="78.5" rx="3.6" ry="3.9" fill="#b4b4b4"/>
<rect x="445" y="31" width="41" height="82" fill="url(#sh)"/>
</g></g>
<g filter="url(#bl)">
<ellipse cx="448" cy="112.5" rx="3" ry="3" fill="#1c1c1c"/><ellipse cx="463" cy="113" rx="4" ry="1.5" fill="#2a2a2a"/>
<circle cx="471.9" cy="40.3" r="1.1" fill="#3a3a80"/><circle cx="465.3" cy="41.1" r="0.9" fill="#5a5a90"/>
<ellipse cx="469" cy="82.2" rx="4.0" ry="3.0" fill="#2c48d0"/><ellipse cx="469.3" cy="82.2" rx="2.2" ry="1.5" fill="#58a0f0"/>
<ellipse cx="481.3" cy="81.4" rx="3.6" ry="4.6" fill="#2c48d0"/><ellipse cx="481.6" cy="81.4" rx="2" ry="3" fill="#58a8f0"/>
<ellipse cx="459.4" cy="101.9" rx="3.6" ry="5.0" fill="#2c40c8"/><ellipse cx="459.4" cy="101.9" rx="2.4" ry="3.6" fill="#40b0c0"/><ellipse cx="459.4" cy="101.9" rx="1.5" ry="2.5" fill="#a8d040"/>
</g></g>
<defs><linearGradient id="cb" x1="0" y1="0" x2="0" y2="1"><stop offset="0" stop-color="#7a2818"/><stop offset="0.06" stop-color="#a04828"/><stop offset="0.15" stop-color="#b07838"/><stop offset="0.25" stop-color="#a89848"/><stop offset="0.35" stop-color="#90b058"/><stop offset="0.45" stop-color="#60a058"/><stop offset="0.52" stop-color="#409070"/><stop offset="0.6" stop-color="#3878a8"/><stop offset="0.7" stop-color="#3460b0"/><stop offset="0.8" stop-color="#303c88"/><stop offset="0.9" stop-color="#2a2c60"/><stop offset="1" stop-color="#201c40"/></linearGradient></defs>
<rect x="487.6" y="17.0" width="2.8" height="71.7" fill="url(#cb)" stroke="none" stroke-width="1" rx="0"/>
<line x1="490.9" y1="17.0" x2="490.9" y2="88.7" stroke="#111" stroke-width="1.1"/>
<line x1="490.9" y1="18.2" x2="493.2" y2="18.2" stroke="#111" stroke-width="0.9"/>
<line x1="490.9" y1="21.47" x2="493.2" y2="21.47" stroke="#111" stroke-width="0.9"/>
<line x1="490.9" y1="24.74" x2="493.2" y2="24.74" stroke="#111" stroke-width="0.9"/>
<line x1="490.9" y1="28.009999999999998" x2="493.2" y2="28.009999999999998" stroke="#111" stroke-width="0.9"/>
<line x1="490.9" y1="31.28" x2="493.2" y2="31.28" stroke="#111" stroke-width="0.9"/>
<line x1="490.9" y1="34.55" x2="493.2" y2="34.55" stroke="#111" stroke-width="0.9"/>
<line x1="490.9" y1="37.82" x2="493.2" y2="37.82" stroke="#111" stroke-width="0.9"/>
<line x1="490.9" y1="41.09" x2="493.2" y2="41.09" stroke="#111" stroke-width="0.9"/>
<line x1="490.9" y1="44.36" x2="493.2" y2="44.36" stroke="#111" stroke-width="0.9"/>
<line x1="490.9" y1="47.629999999999995" x2="493.2" y2="47.629999999999995" stroke="#111" stroke-width="0.9"/>
<line x1="490.9" y1="50.900000000000006" x2="493.2" y2="50.900000000000006" stroke="#111" stroke-width="0.9"/>
<line x1="490.9" y1="54.17" x2="493.2" y2="54.17" stroke="#111" stroke-width="0.9"/>
<line x1="490.9" y1="57.44" x2="493.2" y2="57.44" stroke="#111" stroke-width="0.9"/>
<line x1="490.9" y1="60.709999999999994" x2="493.2" y2="60.709999999999994" stroke="#111" stroke-width="0.9"/>
<line x1="490.9" y1="63.980000000000004" x2="493.2" y2="63.980000000000004" stroke="#111" stroke-width="0.9"/>
<line x1="490.9" y1="67.25" x2="493.2" y2="67.25" stroke="#111" stroke-width="0.9"/>
<line x1="490.9" y1="70.52" x2="493.2" y2="70.52" stroke="#111" stroke-width="0.9"/>
<line x1="490.9" y1="73.79" x2="493.2" y2="73.79" stroke="#111" stroke-width="0.9"/>
<line x1="490.9" y1="77.06" x2="493.2" y2="77.06" stroke="#111" stroke-width="0.9"/>
<line x1="490.9" y1="80.33" x2="493.2" y2="80.33" stroke="#111" stroke-width="0.9"/>
<line x1="490.9" y1="83.60000000000001" x2="493.2" y2="83.60000000000001" stroke="#111" stroke-width="0.9"/>
<line x1="490.9" y1="86.87" x2="493.2" y2="86.87" stroke="#111" stroke-width="0.9"/>
<line x1="490.9" y1="34.5" x2="494.6" y2="34.5" stroke="#111" stroke-width="1.1"/>
<text x="495.6" y="37.1" font-size="7.2" text-anchor="start" font-weight="normal" fill="#222">0.8</text>
<line x1="490.9" y1="50.8" x2="494.6" y2="50.8" stroke="#111" stroke-width="1.1"/>
<text x="495.6" y="53.4" font-size="7.2" text-anchor="start" font-weight="normal" fill="#222">0.6</text>
<line x1="490.9" y1="67.2" x2="494.6" y2="67.2" stroke="#111" stroke-width="1.1"/>
<text x="495.6" y="69.8" font-size="7.2" text-anchor="start" font-weight="normal" fill="#222">0.4</text>
<line x1="490.9" y1="83.5" x2="494.6" y2="83.5" stroke="#111" stroke-width="1.1"/>
<text x="495.6" y="86.1" font-size="7.2" text-anchor="start" font-weight="normal" fill="#222">0.2</text>
<text x="496.4" y="19.2" font-size="6.3" fill="#222">1.0 x10<tspan font-size="4" dy="-2.8">8</tspan></text>
<text x="495.5" y="22.2" font-size="2.75" text-anchor="start" font-weight="normal" fill="#666">photons/sec/cm²/sr</text>
<rect x="488.6" y="92.8" width="28.1" height="21.4" fill="#fff" stroke="#111" stroke-width="1.2" rx="0"/>
<text x="501.6" y="98.2" font-size="4.0" text-anchor="middle" font-weight="normal" fill="#333">Color Bar</text>
<text x="503.0" y="105.5" font-size="4.1" text-anchor="middle" font-weight="normal" fill="#333">Min = 1.00E5</text>
<text x="503.2" y="111.5" font-size="4.1" text-anchor="middle" font-weight="normal" fill="#333">Max = 1.00E8</text>
<text x="366.4" y="129.6" font-size="6.85" text-anchor="start" font-weight="normal" fill="#222">MB20-18</text>
<text x="366.4" y="137.54999999999998" font-size="6.85" text-anchor="start" font-weight="normal" fill="#222">into WT</text>
<text x="420.7" y="129.6" font-size="6.85" text-anchor="middle" font-weight="normal" fill="#222">MB20-18</text>
<text x="420.7" y="137.54999999999998" font-size="6.85" text-anchor="middle" font-weight="normal" fill="#222">into B</text>
<text x="420.7" y="145.5" font-size="6.85" text-anchor="middle" font-weight="normal" fill="#222">depleted</text>
<text x="467.6" y="129.6" font-size="6.85" text-anchor="middle" font-weight="normal" fill="#222">MB20-18:CD3ζΔ</text>
<text x="467.6" y="137.54999999999998" font-size="6.85" text-anchor="middle" font-weight="normal" fill="#222">into B</text>
<text x="467.6" y="145.5" font-size="6.85" text-anchor="middle" font-weight="normal" fill="#222">depleted</text>
<line x1="40.8" y1="192.0" x2="40.8" y2="269.3" stroke="#111" stroke-width="1.3"/>
<line x1="40.199999999999996" y1="268.7" x2="156.5" y2="268.7" stroke="#111" stroke-width="1.3"/>
<line x1="37.8" y1="192.6" x2="40.8" y2="192.6" stroke="#111" stroke-width="1.2"/>
<text x="37.9" y="194.60" font-size="5.7" text-anchor="end" fill="#222">10<tspan font-size="3.5" dy="-2.5">8</tspan></text>
<line x1="37.8" y1="211.6" x2="40.8" y2="211.6" stroke="#111" stroke-width="1.2"/>
<text x="37.9" y="213.60" font-size="5.7" text-anchor="end" fill="#222">10<tspan font-size="3.5" dy="-2.5">7</tspan></text>
<line x1="37.8" y1="230.7" x2="40.8" y2="230.7" stroke="#111" stroke-width="1.2"/>
<text x="37.9" y="232.70" font-size="5.7" text-anchor="end" fill="#222">10<tspan font-size="3.5" dy="-2.5">6</tspan></text>
<line x1="37.8" y1="249.8" x2="40.8" y2="249.8" stroke="#111" stroke-width="1.2"/>
<text x="37.9" y="251.80" font-size="5.7" text-anchor="end" fill="#222">10<tspan font-size="3.5" dy="-2.5">5</tspan></text>
<line x1="37.8" y1="268.7" x2="40.8" y2="268.7" stroke="#111" stroke-width="1.2"/>
<text x="37.9" y="270.70" font-size="5.7" text-anchor="end" fill="#222">10<tspan font-size="3.5" dy="-2.5">4</tspan></text>
<line x1="52.5" y1="268.7" x2="52.5" y2="271.9" stroke="#111" stroke-width="1.2"/>
<line x1="75.5" y1="268.7" x2="75.5" y2="271.9" stroke="#111" stroke-width="1.2"/>
<line x1="98.5" y1="268.7" x2="98.5" y2="271.9" stroke="#111" stroke-width="1.2"/>
<line x1="121.7" y1="268.7" x2="121.7" y2="271.9" stroke="#111" stroke-width="1.2"/>
<line x1="144.8" y1="268.7" x2="144.8" y2="271.9" stroke="#111" stroke-width="1.2"/>
<text x="21.6" y="226" font-size="6.7" text-anchor="middle" font-weight="normal" fill="#222" transform="rotate(-90 21.6 226)">B cells/spleen</text>
<rect x="45.75" y="241.35" width="3.5" height="3.5" fill="#111"/>
<rect x="50.65" y="242.45" width="3.5" height="3.5" fill="#111"/>
<rect x="55.15" y="239.95" width="3.5" height="3.5" fill="#111"/>
<rect x="45.65" y="248.25" width="3.5" height="3.5" fill="#111"/>
<rect x="50.35" y="248.95" width="3.5" height="3.5" fill="#111"/>
<rect x="55.25" y="248.25" width="3.5" height="3.5" fill="#111"/>
<line x1="44" y1="246.6" x2="60.7" y2="246.6" stroke="#111" stroke-width="1.4"/>
<polygon points="75.40,221.49 72.80,226.17 78.00,226.17" fill="#e3242b"/>
<polygon points="70.80,225.79 68.20,230.47 73.40,230.47" fill="#e3242b"/>
<polygon points="80.20,226.09 77.60,230.77 82.80,230.77" fill="#e3242b"/>
<polygon points="75.50,229.39 72.90,234.07 78.10,234.07" fill="#e3242b"/>
<polygon points="75.40,236.39 72.80,241.07 78.00,241.07" fill="#e3242b"/>
<line x1="67" y1="229.4" x2="83.7" y2="229.4" stroke="#e85060" stroke-width="1.2"/>
<rect x="91.6" y="230.5" width="4.0" height="4.0" fill="#fff" stroke="#111" stroke-width="1.5" rx="0"/>
<rect x="96.0" y="233.5" width="4.0" height="4.0" fill="#fff" stroke="#111" stroke-width="1.5" rx="0"/>
<rect x="101.0" y="232.2" width="4.0" height="4.0" fill="#fff" stroke="#111" stroke-width="1.5" rx="0"/>
<line x1="90" y1="234.6" x2="106.6" y2="234.6" stroke="#111" stroke-width="1.2"/>
<polygon points="121.50,195.20 123.60,197.30 121.50,199.40 119.40,197.30" fill="#3b4fa8"/>
<polygon points="118.40,197.50 120.50,199.60 118.40,201.70 116.30,199.60" fill="#3b4fa8"/>
<polygon points="124.60,197.90 126.70,200.00 124.60,202.10 122.50,200.00" fill="#3b4fa8"/>
<polygon points="115.30,199.60 117.40,201.70 115.30,203.80 113.20,201.70" fill="#3b4fa8"/>
<polygon points="127.30,199.60 129.40,201.70 127.30,203.80 125.20,201.70" fill="#3b4fa8"/>
<polygon points="121.50,200.10 123.60,202.20 121.50,204.30 119.40,202.20" fill="#3b4fa8"/>
<polygon points="118.40,202.30 120.50,204.40 118.40,206.50 116.30,204.40" fill="#3b4fa8"/>
<polygon points="124.60,202.30 126.70,204.40 124.60,206.50 122.50,204.40" fill="#3b4fa8"/>
<polygon points="121.50,204.90 123.60,207.00 121.50,209.10 119.40,207.00" fill="#3b4fa8"/>
<line x1="113.1" y1="202.2" x2="129.5" y2="202.2" stroke="#3b4fa8" stroke-width="1.2"/>
<line x1="136.5" y1="201.3" x2="151.6" y2="201.3" stroke="#f39232" stroke-width="1.4"/>
<circle cx="139.2" cy="200.4" r="2.1" fill="#f39232" stroke="none" stroke-width="0"/>
<circle cx="142.3" cy="201.9" r="2.1" fill="#f39232" stroke="none" stroke-width="0"/>
<circle cx="145" cy="201.3" r="2.1" fill="#f39232" stroke="none" stroke-width="0"/>
<circle cx="148" cy="201.3" r="2.1" fill="#f39232" stroke="none" stroke-width="0"/>
<polyline points="52.60,238.50 52.60,229.00 66.00,229.00" fill="none" stroke="#111" stroke-width="1.35" stroke-linejoin="miter"/>
<polyline points="76.40,220.20 76.40,200.30 112.00,200.30" fill="none" stroke="#111" stroke-width="1.35" stroke-linejoin="miter"/>
<polyline points="74.90,243.90 74.90,256.80 98.90,256.80 98.90,244.80" fill="none" stroke="#111" stroke-width="1.35" stroke-linejoin="miter"/>
<polyline points="121.90,210.40 121.90,218.90 146.90,218.90 146.90,211.30" fill="none" stroke="#111" stroke-width="1.35" stroke-linejoin="miter"/>
<polyline points="52.60,255.30 52.60,264.10 121.90,264.10 121.90,220.80" fill="none" stroke="#111" stroke-width="1.35" stroke-linejoin="miter"/>
<text x="46.3" y="220.0" font-size="7.0" fill="#222"><tspan font-style="italic">P</tspan> &lt; .001</text>
<text x="76.7" y="196.6" font-size="7.0" fill="#222"><tspan font-style="italic">P</tspan> &lt; .001</text>
<text x="76.9" y="254.2" font-size="7.0" fill="#222"><tspan font-style="italic">P</tspan> &gt; .05</text>
<text x="123.2" y="217.2" font-size="7.0" fill="#222"><tspan font-style="italic">P</tspan> &gt; .05</text>
<text x="123.6" y="263.8" font-size="7.0" fill="#222"><tspan font-style="italic">P</tspan> &lt; .001</text>
<rect x="43.8" y="289.3" width="118" height="52" fill="none" stroke="#111" stroke-width="1.5" rx="5.5"/>
<rect x="52.90" y="296.20" width="3.6" height="3.6" fill="#111"/>
<text x="62" y="300.3" font-size="6.65" text-anchor="start" font-weight="normal" fill="#222">MB20-18 into depleted</text>
<polygon points="54.80,303.90 52.30,308.40 57.30,308.40" fill="#d42a3a"/>
<text x="62" y="308.90000000000003" font-size="6.65" text-anchor="start" font-weight="normal" fill="#222">MB20-18:CD3ζΔ into depleted</text>
<rect x="53.0" y="313.59999999999997" width="3.6" height="3.6" fill="#fff" stroke="#111" stroke-width="1.5" rx="0"/>
<text x="62" y="317.7" font-size="6.65" text-anchor="start" font-weight="normal" fill="#222">Antibody depletion alone</text>
<polygon points="54.80,321.80 57.20,324.20 54.80,326.60 52.40,324.20" fill="#3b4fa8"/>
<text x="62" y="326.5" font-size="6.65" text-anchor="start" font-weight="normal" fill="#222">MB20-18 into WT</text>
<circle cx="54.8" cy="333" r="2.0" fill="#f39232" stroke="none" stroke-width="0"/>
<text x="62" y="335.3" font-size="6.65" text-anchor="start" font-weight="normal" fill="#222">MB20-18:CD3ζΔ into WT</text>
<line x1="206.5" y1="186.0" x2="206.5" y2="268.40000000000003" stroke="#111" stroke-width="1.3"/>
<line x1="205.9" y1="267.8" x2="327.8" y2="267.8" stroke="#111" stroke-width="1.3"/>
<line x1="203.5" y1="267.8" x2="206.5" y2="267.8" stroke="#111" stroke-width="1.2"/>
<text x="202.6" y="269.90000000000003" font-size="6.0" text-anchor="end" font-weight="normal" fill="#222">0</text>
<line x1="203.5" y1="240.93" x2="206.5" y2="240.93" stroke="#111" stroke-width="1.2"/>
<text x="201.7" y="243.13" font-size="6.2" text-anchor="end" fill="#222" letter-spacing="0.15">1.0<tspan font-size="6.8">×</tspan>10<tspan font-size="3.8" dy="-2.6">7</tspan></text>
<line x1="203.5" y1="214.06" x2="206.5" y2="214.06" stroke="#111" stroke-width="1.2"/>
<text x="201.7" y="216.26" font-size="6.2" text-anchor="end" fill="#222" letter-spacing="0.15">2.0<tspan font-size="6.8">×</tspan>10<tspan font-size="3.8" dy="-2.6">7</tspan></text>
<line x1="203.5" y1="187.19" x2="206.5" y2="187.19" stroke="#111" stroke-width="1.2"/>
<text x="201.7" y="189.39" font-size="6.2" text-anchor="end" fill="#222" letter-spacing="0.15">3.0<tspan font-size="6.8">×</tspan>10<tspan font-size="3.8" dy="-2.6">7</tspan></text>
<text x="174.3" y="225.7" font-size="6.7" text-anchor="middle" font-weight="normal" fill="#222" transform="rotate(-90 174.3 225.7)">B cells/spleen</text>
<line x1="214.0" y1="267.8" x2="214.0" y2="270.6" stroke="#111" stroke-width="1.1"/>
<text x="215.3" y="276.0" font-size="6.4" text-anchor="end" font-weight="normal" fill="#222" transform="rotate(-45 215.3 276.0)">MZ</text>
<line x1="223.0" y1="267.8" x2="223.0" y2="270.6" stroke="#111" stroke-width="1.1"/>
<text x="224.3" y="276.0" font-size="6.4" text-anchor="end" font-weight="normal" fill="#222" transform="rotate(-45 224.3 276.0)">FO</text>
<line x1="238.2" y1="267.8" x2="238.2" y2="270.6" stroke="#111" stroke-width="1.1"/>
<text x="239.5" y="276.0" font-size="6.4" text-anchor="end" font-weight="normal" fill="#222" transform="rotate(-45 239.5 276.0)">MZ</text>
<line x1="247.1" y1="267.8" x2="247.1" y2="270.6" stroke="#111" stroke-width="1.1"/>
<text x="248.4" y="276.0" font-size="6.4" text-anchor="end" font-weight="normal" fill="#222" transform="rotate(-45 248.4 276.0)">FO</text>
<line x1="262.7" y1="267.8" x2="262.7" y2="270.6" stroke="#111" stroke-width="1.1"/>
<text x="264.0" y="276.0" font-size="6.4" text-anchor="end" font-weight="normal" fill="#222" transform="rotate(-45 264.0 276.0)">MZ</text>
<line x1="271.3" y1="267.8" x2="271.3" y2="270.6" stroke="#111" stroke-width="1.1"/>
<text x="272.6" y="276.0" font-size="6.4" text-anchor="end" font-weight="normal" fill="#222" transform="rotate(-45 272.6 276.0)">FO</text>
<line x1="286.7" y1="267.8" x2="286.7" y2="270.6" stroke="#111" stroke-width="1.1"/>
<text x="288.0" y="276.0" font-size="6.4" text-anchor="end" font-weight="normal" fill="#222" transform="rotate(-45 288.0 276.0)">MZ</text>
<line x1="295.9" y1="267.8" x2="295.9" y2="270.6" stroke="#111" stroke-width="1.1"/>
<text x="297.2" y="276.0" font-size="6.4" text-anchor="end" font-weight="normal" fill="#222" transform="rotate(-45 297.2 276.0)">FO</text>
<line x1="311.0" y1="267.8" x2="311.0" y2="270.6" stroke="#111" stroke-width="1.1"/>
<text x="312.3" y="276.0" font-size="6.4" text-anchor="end" font-weight="normal" fill="#222" transform="rotate(-45 312.3 276.0)">MZ</text>
<line x1="320.2" y1="267.8" x2="320.2" y2="270.6" stroke="#111" stroke-width="1.1"/>
<text x="321.5" y="276.0" font-size="6.4" text-anchor="end" font-weight="normal" fill="#222" transform="rotate(-45 321.5 276.0)">FO</text>
<rect x="219.6" y="267.3" width="6.8" height="0.5" fill="#111" stroke="none" stroke-width="1" rx="0"/>
<rect x="234.79999999999998" y="267.2" width="6.8" height="0.6" fill="#111" stroke="none" stroke-width="1" rx="0"/>
<rect x="243.7" y="266.2" width="6.8" height="1.6" fill="#111" stroke="none" stroke-width="1" rx="0"/>
<rect x="259.3" y="266.8" width="6.8" height="1.0" fill="#111" stroke="none" stroke-width="1" rx="0"/>
<rect x="267.90000000000003" y="266.0" width="6.8" height="1.8" fill="#111" stroke="none" stroke-width="1" rx="0"/>
<rect x="283.6" y="261.2" width="6.4" height="6.600000000000023" fill="#3b4fa8" stroke="#111" stroke-width="1.25" rx="0"/>
<rect x="292.6" y="198.3" width="6.9" height="69.5" fill="#3b4fa8" stroke="#111" stroke-width="1.25" rx="0"/>
<rect x="307.7" y="263.0" width="6.4" height="4.800000000000011" fill="#f39232" stroke="#111" stroke-width="1.25" rx="0"/>
<rect x="316.9" y="195.1" width="6.9" height="72.70000000000002" fill="#f39232" stroke="#111" stroke-width="1.25" rx="0"/>
<line x1="296.1" y1="198.3" x2="296.1" y2="189" stroke="#111" stroke-width="1.1"/>
<line x1="294.2" y1="189" x2="298.2" y2="189" stroke="#111" stroke-width="1.1"/>
<line x1="320.3" y1="195.1" x2="320.3" y2="189" stroke="#111" stroke-width="1.1"/>
<line x1="318.6" y1="189" x2="322.4" y2="189" stroke="#111" stroke-width="1.1"/>
<polyline points="216.30,258.00 216.30,245.10 275.00,245.10 275.00,258.00" fill="none" stroke="#111" stroke-width="1.45" stroke-linejoin="miter"/>
<text x="245.8" y="237.9" font-size="6.9" text-anchor="middle" font-weight="normal" fill="#222">Magnified in F</text>
<line x1="376.9" y1="186.0" x2="376.9" y2="269.20000000000005" stroke="#111" stroke-width="1.3"/>
<line x1="376.29999999999995" y1="268.6" x2="498.8" y2="268.6" stroke="#111" stroke-width="1.3"/>
<line x1="373.9" y1="268.6" x2="376.9" y2="268.6" stroke="#111" stroke-width="1.2"/>
<text x="373.4" y="270.70000000000005" font-size="6.0" text-anchor="end" font-weight="normal" fill="#222">0</text>
<line x1="373.9" y1="255.10000000000002" x2="376.9" y2="255.10000000000002" stroke="#111" stroke-width="1.2"/>
<text x="373.6" y="257.30" font-size="6.2" text-anchor="end" fill="#222" letter-spacing="0.15">1.0<tspan font-size="6.8">×</tspan>10<tspan font-size="3.8" dy="-2.6">5</tspan></text>
<line x1="373.9" y1="241.60000000000002" x2="376.9" y2="241.60000000000002" stroke="#111" stroke-width="1.2"/>
<text x="373.6" y="243.80" font-size="6.2" text-anchor="end" fill="#222" letter-spacing="0.15">2.0<tspan font-size="6.8">×</tspan>10<tspan font-size="3.8" dy="-2.6">5</tspan></text>
<line x1="373.9" y1="228.10000000000002" x2="376.9" y2="228.10000000000002" stroke="#111" stroke-width="1.2"/>
<text x="373.6" y="230.30" font-size="6.2" text-anchor="end" fill="#222" letter-spacing="0.15">3.0<tspan font-size="6.8">×</tspan>10<tspan font-size="3.8" dy="-2.6">5</tspan></text>
<line x1="373.9" y1="214.60000000000002" x2="376.9" y2="214.60000000000002" stroke="#111" stroke-width="1.2"/>
<text x="373.6" y="216.80" font-size="6.2" text-anchor="end" fill="#222" letter-spacing="0.15">4.0<tspan font-size="6.8">×</tspan>10<tspan font-size="3.8" dy="-2.6">5</tspan></text>
<line x1="373.9" y1="201.10000000000002" x2="376.9" y2="201.10000000000002" stroke="#111" stroke-width="1.2"/>
<text x="373.6" y="203.30" font-size="6.2" text-anchor="end" fill="#222" letter-spacing="0.15">5.0<tspan font-size="6.8">×</tspan>10<tspan font-size="3.8" dy="-2.6">5</tspan></text>
<line x1="373.9" y1="187.60000000000002" x2="376.9" y2="187.60000000000002" stroke="#111" stroke-width="1.2"/>
<text x="373.6" y="189.80" font-size="6.2" text-anchor="end" fill="#222" letter-spacing="0.15">6.0<tspan font-size="6.8">×</tspan>10<tspan font-size="3.8" dy="-2.6">5</tspan></text>
<text x="345" y="225.3" font-size="6.7" text-anchor="middle" font-weight="normal" fill="#222" transform="rotate(-90 345 225.3)">B cells/spleen</text>
<line x1="389.0" y1="268.6" x2="389.0" y2="271.40000000000003" stroke="#111" stroke-width="1.1"/>
<text x="391.4" y="276.6" font-size="6.4" text-anchor="end" font-weight="normal" fill="#222" transform="rotate(-45 391.4 276.6)">MZ</text>
<line x1="404.4" y1="268.6" x2="404.4" y2="271.40000000000003" stroke="#111" stroke-width="1.1"/>
<text x="406.79999999999995" y="276.6" font-size="6.4" text-anchor="end" font-weight="normal" fill="#222" transform="rotate(-45 406.79999999999995 276.6)">FO</text>
<line x1="430.0" y1="268.6" x2="430.0" y2="271.40000000000003" stroke="#111" stroke-width="1.1"/>
<text x="432.4" y="276.6" font-size="6.4" text-anchor="end" font-weight="normal" fill="#222" transform="rotate(-45 432.4 276.6)">MZ</text>
<line x1="445.3" y1="268.6" x2="445.3" y2="271.40000000000003" stroke="#111" stroke-width="1.1"/>
<text x="447.7" y="276.6" font-size="6.4" text-anchor="end" font-weight="normal" fill="#222" transform="rotate(-45 447.7 276.6)">FO</text>
<line x1="470.6" y1="268.6" x2="470.6" y2="271.40000000000003" stroke="#111" stroke-width="1.1"/>
<text x="473.0" y="276.6" font-size="6.4" text-anchor="end" font-weight="normal" fill="#222" transform="rotate(-45 473.0 276.6)">MZ</text>
<line x1="485.9" y1="268.6" x2="485.9" y2="271.40000000000003" stroke="#111" stroke-width="1.1"/>
<text x="488.29999999999995" y="276.6" font-size="6.4" text-anchor="end" font-weight="normal" fill="#222" transform="rotate(-45 488.29999999999995 276.6)">FO</text>
<rect x="399.2" y="264.0" width="11.2" height="4.600000000000023" fill="#111" stroke="#111" stroke-width="1.0" rx="0"/>
<line x1="404.8" y1="264" x2="404.8" y2="262.3" stroke="#111" stroke-width="1.0"/>
<line x1="402.8" y1="262.3" x2="406.8" y2="262.3" stroke="#111" stroke-width="1.0"/>
<rect x="424.7" y="247.8" width="10.5" height="20.80000000000001" fill="#fff" stroke="#111" stroke-width="1.2" rx="0"/>
<rect x="439.8" y="208.7" width="11.0" height="59.900000000000034" fill="#fff" stroke="#111" stroke-width="1.2" rx="0"/>
<rect x="465.3" y="232.2" width="10.6" height="36.400000000000034" fill="#e3242b" stroke="#111" stroke-width="1.2" rx="0"/>
<rect x="480.6" y="201.2" width="10.8" height="67.40000000000003" fill="#e3242b" stroke="#111" stroke-width="1.2" rx="0"/>
<line x1="429.95" y1="247.8" x2="429.95" y2="242.5" stroke="#111" stroke-width="1.1"/>
<line x1="427.05" y1="242.5" x2="432.84999999999997" y2="242.5" stroke="#111" stroke-width="1.1"/>
<line x1="445.3" y1="208.7" x2="445.3" y2="202.7" stroke="#111" stroke-width="1.1"/>
<line x1="442.40000000000003" y1="202.7" x2="448.2" y2="202.7" stroke="#111" stroke-width="1.1"/>
<line x1="470.6" y1="232.2" x2="470.6" y2="218.1" stroke="#111" stroke-width="1.1"/>
<line x1="467.70000000000005" y1="218.1" x2="473.5" y2="218.1" stroke="#111" stroke-width="1.1"/>
<line x1="486.0" y1="201.2" x2="486.0" y2="187.9" stroke="#111" stroke-width="1.1"/>
<line x1="483.1" y1="187.9" x2="488.9" y2="187.9" stroke="#111" stroke-width="1.1"/>
<rect x="227.7" y="295.4" width="255.4" height="45.2" fill="none" stroke="#111" stroke-width="1.5" rx="5.5"/>
<rect x="249.8" y="304.09999999999997" width="9.8" height="4.4" fill="#3b4fa8" stroke="#111" stroke-width="1.3" rx="0"/>
<text x="264" y="308.6" font-size="6.7" text-anchor="start" font-weight="normal" fill="#222">MB20-18 into WT</text>
<rect x="249.8" y="317.29999999999995" width="9.8" height="4.4" fill="#f39232" stroke="#111" stroke-width="1.3" rx="0"/>
<text x="264" y="321.6" font-size="6.7" text-anchor="start" font-weight="normal" fill="#222">MB20-18:CD3ζΔ into WT</text>
<rect x="294.6" y="331.29999999999995" width="9.8" height="4.4" fill="#e3242b" stroke="#111" stroke-width="1.3" rx="0"/>
<text x="308.3" y="335.6" font-size="6.7" text-anchor="start" font-weight="normal" fill="#222">MB20-18:CD3ζΔ into B depleted</text>
<rect x="365.7" y="304.09999999999997" width="9.8" height="4.4" fill="#111" stroke="#111" stroke-width="1.3" rx="0"/>
<text x="380" y="308.6" font-size="6.7" text-anchor="start" font-weight="normal" fill="#222">MB20-18 into B depleted</text>
<rect x="365.7" y="317.7" width="9.8" height="4.4" fill="#fff" stroke="#111" stroke-width="1.3" rx="0"/>
<text x="380" y="322.0" font-size="6.7" text-anchor="start" font-weight="normal" fill="#222">Antibody depletion alone</text>
</svg></body></html>
